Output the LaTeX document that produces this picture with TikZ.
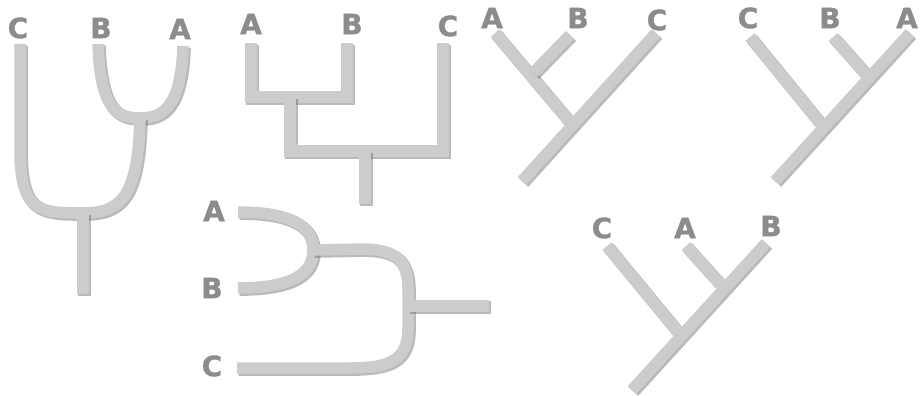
\documentclass[tikz,border=0pt]{standalone}
\usepackage{fontspec}
\newfontfamily\taxonfont{DejaVu Sans Bold}[FakeBold=1.2]
\usetikzlibrary{positioning}

\tikzset{
  taxon/.style={inner sep=0pt, text=black!45,
                font=\taxonfont\fontsize{28}{28}\selectfont},
  branch/.style={line width=11.5pt, draw=black!20, line cap=butt, line join=miter,
                 preaction={draw=black!60, draw opacity=0.45, line width=12.5pt,
                            transform canvas={shift={(1.6pt,-1.6pt)}}}},
}

\begin{document}
\begin{tikzpicture}[x=1pt, y=-1pt]
  \useasboundingbox (0,0) rectangle (921,396);

  % curved tree, leaves on top
  \node[taxon] (uC) at (18,28) {C};
  \node[taxon] (uB) at (101,28) {B};
  \node[taxon] (uA) at (180,29) {A};
  \coordinate (uCe) at (20,44);
  \coordinate (uBe) at (98,44);
  \coordinate (uAe) at (183,46);
  \coordinate (uAB) at (140,118);
  \coordinate (uroot) at (83,213);
  \coordinate (ustem) at (83,294);
  \draw[branch] (uBe) .. controls (100,110) and (118,118) .. (uAB);
  \draw[branch] (uAe) .. controls (181,108) and (162,118) .. (uAB);
  \draw[branch] (uCe) -- (20,150) .. controls (20,212) and (40,213) .. (uroot);
  \draw[branch] (uAB) .. controls (138,195) and (122,213) .. (uroot);
  \draw[branch] (uroot) -- (ustem);

  % square tree
  \node[taxon] (sA) at (251,24) {A};
  \node[taxon] (sB) at (352,24) {B};
  \node[taxon] (sC) at (448,26) {C};
  \coordinate (sAe) at (251,43);
  \coordinate (sBe) at (347,43);
  \coordinate (sCe) at (443,43);
  \coordinate (sAB) at (290,97);
  \coordinate (sroot) at (365,151);
  \coordinate (sstem) at (365,204);
  \draw[branch] (sAe) |- (sBe |- sAB) -- (sBe);
  \draw[branch] (sAB) |- (sCe |- sroot) -- (sCe);
  \draw[branch] (sroot) -- (sstem);

  % slanted tree, A B C
  \node[taxon] (dA) at (492,18) {A};
  \node[taxon] (dB) at (578,18) {B};
  \node[taxon] (dC) at (657,20) {C};
  \coordinate (dAe) at (495,33);
  \coordinate (dBe) at (570,35);
  \coordinate (dCe) at (656,33);
  \coordinate (dAB) at (533,73);
  \coordinate (dABC) at (569,121);
  \coordinate (dstem) at (522,181);
  \draw[branch] (dAe) -- (dABC);
  \draw[branch] (dBe) -- (dAB);
  \draw[branch] (dCe) -- (dstem);

  % slanted tree, C B A
  \node[taxon] (eC) at (748,18) {C};
  \node[taxon] (eB) at (830,18) {B};
  \node[taxon] (eA) at (907,18) {A};
  \coordinate (eCe) at (750,37);
  \coordinate (eBe) at (833,37);
  \coordinate (eAe) at (910,33);
  \coordinate (eBA) at (866,74);
  \coordinate (eroot) at (821,124);
  \coordinate (estem) at (775,181);
  \draw[branch] (eCe) -- (eroot);
  \draw[branch] (eBe) -- (eBA);
  \draw[branch] (eAe) -- (estem);

  % curved tree lying on its side
  \node[taxon] (hA) at (214,211) {A};
  \node[taxon] (hB) at (212,288) {B};
  \node[taxon] (hC) at (212,366) {C};
  \coordinate (hAe) at (238,212);
  \coordinate (hBe) at (238,288);
  \coordinate (hCe) at (237,368);
  \coordinate (hAB) at (313,250);
  \coordinate (hroot) at (408,306);
  \coordinate (hstem) at (489,306);
  \draw[branch] (hAe) .. controls (295,212) and (313,228) .. (hAB);
  \draw[branch] (hBe) .. controls (295,288) and (313,272) .. (hAB);
  \draw[branch] (hAB) -- (365,249) .. controls (398,250) and (408,262) .. (408,290)
                -- (408,328) .. controls (408,360) and (390,368) .. (350,368) -- (hCe);
  \draw[branch] (hroot) -- (hstem);

  % slanted tree, C A B
  \node[taxon] (fC) at (602,228) {C};
  \node[taxon] (fA) at (685,228) {A};
  \node[taxon] (fB) at (771,226) {B};
  \coordinate (fCe) at (607,246);
  \coordinate (fAe) at (686,246);
  \coordinate (fBe) at (766,243);
  \coordinate (fAB) at (722,286);
  \coordinate (froot) at (678,332);
  \coordinate (fstem) at (632,390);
  \draw[branch] (fCe) -- (froot);
  \draw[branch] (fAe) -- (fAB);
  \draw[branch] (fBe) -- (fstem);
\end{tikzpicture}
\end{document}
